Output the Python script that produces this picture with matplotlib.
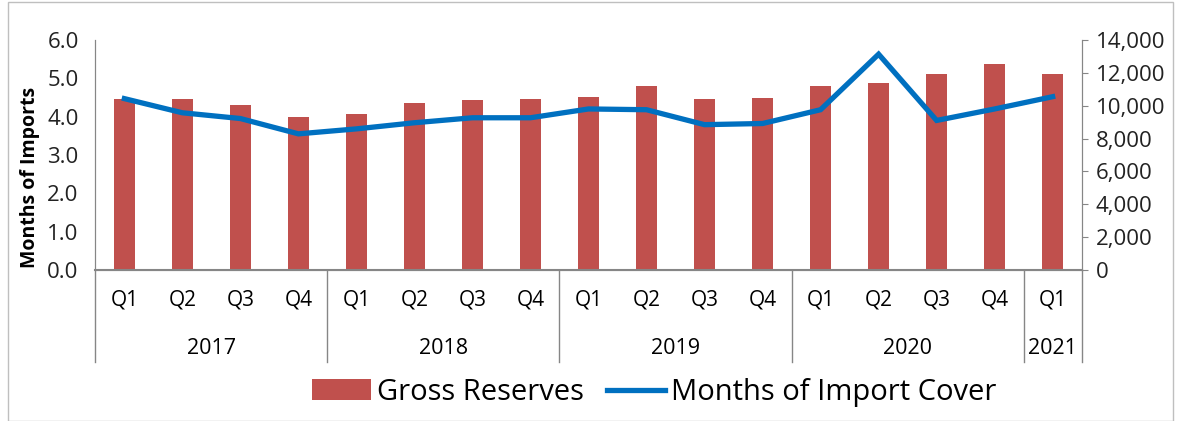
import numpy as np
import matplotlib
matplotlib.use("Agg")
import matplotlib.pyplot as plt
import matplotlib.transforms as mtransforms
from matplotlib.patches import Rectangle

plt.rcParams['font.family'] = ['Liberation Sans Narrow', 'Open Sans', 'DejaVu Sans']

quarters = ['Q1', 'Q2', 'Q3', 'Q4'] * 4 + ['Q1']
years = ['2017', '2018', '2019', '2020', '2021']
year_sizes = [4, 4, 4, 4, 1]

# Gross reserves (right axis)
gross_reserves = [10400, 10400, 10050, 9320, 9500, 10170, 10350, 10400,
                  10530, 11200, 10400, 10470, 11200, 11380, 11930, 12540, 11930]
# months of import cover (left axis)
import_cover = [4.47, 4.10, 3.95, 3.55, 3.68, 3.84, 3.97, 3.97,
                4.20, 4.18, 3.79, 3.82, 4.18, 5.63, 3.90, 4.20, 4.52]

bar_color = '#C0504D'
line_color = '#0070C0'
grey = '#868686'

fig = plt.figure(figsize=(11.77, 4.21), dpi=100)
fig.patches.append(Rectangle((0.007, 0.0), 0.99, 0.995, transform=fig.transFigure,
                             fill=False, edgecolor='#BFBFBF', lw=1))

ax = fig.add_axes([0.081, 0.359, 0.838, 0.546])
ax2 = ax.twinx()

x = np.arange(len(quarters))
bars = ax2.bar(x, gross_reserves, width=0.37, color=bar_color, label='Gross Reserves', zorder=1)
ax2.set_ylim(0, 14000)
ax2.set_yticks(np.arange(0, 14001, 2000))
ax2.set_yticklabels([f'{v:,}' for v in range(0, 14001, 2000)])

# line above bars
ax.set_zorder(ax2.get_zorder() + 1)
ax.patch.set_visible(False)
line, = ax.plot(x, import_cover, color=line_color, lw=3.8, label='Months of Import Cover',
                solid_joinstyle='miter')
ax.set_ylim(0, 6)
ax.set_yticks(np.arange(0, 6.01, 1.0))
ax.set_yticklabels([f'{v:.1f}' for v in np.arange(0, 6.01, 1.0)])
ax.set_xlim(-0.5, len(quarters) - 0.5)
ax.set_ylabel('Months of Imports', fontsize=14, fontweight='bold')
ax.yaxis.set_label_coords(-0.056, 0.40)

for a in (ax, ax2):
    a.spines['top'].set_visible(False)
    a.spines['left'].set_color(grey)
    a.spines['right'].set_color(grey)
    a.spines['bottom'].set_color(grey)
    a.tick_params(axis='y', labelsize=16, colors='#222222', length=0)
ax.tick_params(axis='y', pad=12)
ax2.tick_params(axis='y', length=4, color=grey, direction='out', pad=6)
ax.spines['bottom'].set_linewidth(1.5)

# category axis: quarters then years
ax.set_xticks([])
trans = mtransforms.blended_transform_factory(ax.transData, ax.transAxes)
for i, q in enumerate(quarters):
    ax.text(i, -0.13, q, transform=trans, ha='center', va='center', fontsize=15)
edges = np.concatenate([[0], np.cumsum(year_sizes)]) - 0.5
for e in edges:
    ax.plot([e, e], [0, -0.40], transform=trans, color=grey, lw=1, clip_on=False)
for k, yr in enumerate(years):
    mid = (edges[k] + edges[k + 1]) / 2
    ax.text(mid, -0.34, yr, transform=trans, ha='center', va='center', fontsize=15.5)

fig.legend([bars, line], ['Gross Reserves', 'Months of Import Cover'],
           loc='center', bbox_to_anchor=(0.556, 0.068), ncol=2, frameon=False,
           fontsize=21, handlelength=2.0, handletextpad=0.2, columnspacing=0.8)

fig.savefig('out.png', dpi=100)
